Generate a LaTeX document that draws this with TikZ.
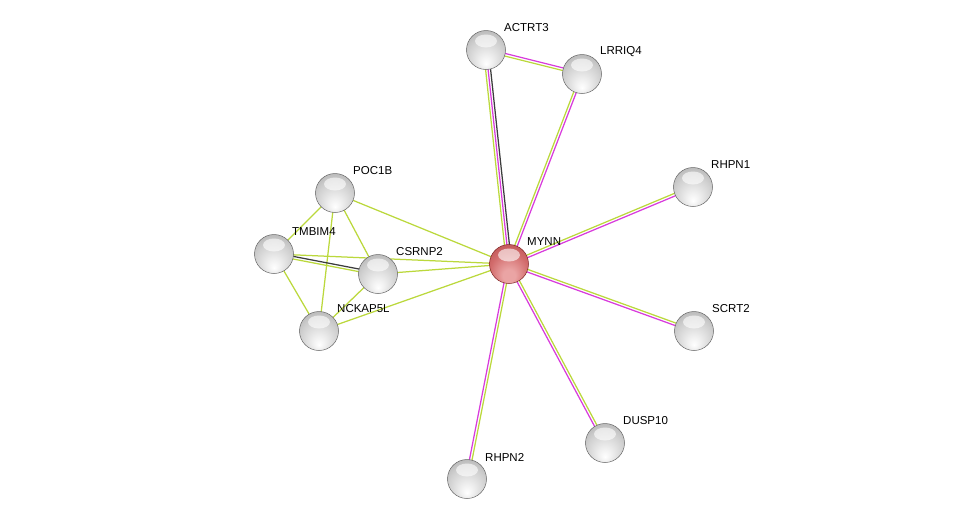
\documentclass[tikz,border=0pt]{standalone}
\usepackage{fontspec}
\setmainfont{Liberation Sans}
\usetikzlibrary{calc}
\pgfdeclarelayer{background}
\pgfsetlayers{background,main}
\definecolor{ym}{HTML}{BBD83C}
\definecolor{mag}{HTML}{D83CDC}
\definecolor{dk}{HTML}{3C3C3C}
\definecolor{gA}{HTML}{F0F0F0}
\definecolor{gB}{HTML}{CFCFCF}
\definecolor{gC}{HTML}{A6A6A6}
\definecolor{gD}{HTML}{6E6E6E}
\definecolor{rA}{HTML}{EAA4A4}
\definecolor{rB}{HTML}{D26C6C}
\definecolor{rC}{HTML}{B44848}
\definecolor{rD}{HTML}{7E2626}
\pgfdeclareradialshading{sph}{\pgfpoint{0bp}{-18bp}}{color(0bp)=(white); color(8bp)=(gA); color(24bp)=(gB); color(40bp)=(gC); color(50bp)=(gD)}
\pgfdeclareradialshading{sphred}{\pgfpoint{0bp}{-18bp}}{color(0bp)=(rA); color(8bp)=(rA); color(24bp)=(rB); color(40bp)=(rC); color(50bp)=(rD)}
\begin{document}
\begin{tikzpicture}[x=1pt,y=-1pt,
  hilite/.style={path picture={\fill[white,opacity=0.6] ($(path picture bounding box.center)+(0,-9)$) ellipse (11 and 6.5);}},
  prot/.style={circle,minimum size=39pt,inner sep=0pt,shading=sph,draw=gray!80!black,line width=0.5pt,hilite},
  hub/.style={prot,shading=sphred,draw=rD},
  lbl/.style={anchor=west,font=\fontsize{11.5}{13}\selectfont,inner sep=0pt},
  ln/.style={line width=1.25pt}]
\useasboundingbox (0,0) rectangle (975,525);
% nodes
\node[prot] (ACTRT3) at (486,50) {};
\node[prot] (LRRIQ4) at (582,74) {};
\node[prot] (RHPN1) at (693,187) {};
\node[hub] (MYNN) at (509,264) {};
\node[prot] (SCRT2) at (694,331) {};
\node[prot] (DUSP10) at (605,443) {};
\node[prot] (RHPN2) at (467,479) {};
\node[prot] (POC1B) at (335,193) {};
\node[prot] (TMBIM4) at (274,254) {};
\node[prot] (CSRNP2) at (378,274) {};
\node[prot] (NCKAP5L) at (319,331) {};
% labels
\node[lbl] (lACTRT3) at ($(ACTRT3.center)+(18,-22)$) {ACTRT3};
\node[lbl] (lLRRIQ4) at ($(LRRIQ4.center)+(18,-22)$) {LRRIQ4};
\node[lbl] (lRHPN1) at ($(RHPN1.center)+(18,-22)$) {RHPN1};
\node[lbl] (lMYNN) at ($(MYNN.center)+(18,-22)$) {MYNN};
\node[lbl] (lSCRT2) at ($(SCRT2.center)+(18,-22)$) {SCRT2};
\node[lbl] (lDUSP10) at ($(DUSP10.center)+(18,-22)$) {DUSP10};
\node[lbl] (lRHPN2) at ($(RHPN2.center)+(18,-22)$) {RHPN2};
\node[lbl] (lPOC1B) at ($(POC1B.center)+(18,-22)$) {POC1B};
\node[lbl] (lTMBIM4) at ($(TMBIM4.center)+(18,-22)$) {TMBIM4};
\node[lbl] (lCSRNP2) at ($(CSRNP2.center)+(18,-22)$) {CSRNP2};
\node[lbl] (lNCKAP5L) at ($(NCKAP5L.center)+(18,-22)$) {NCKAP5L};
% edges
\begin{pgfonlayer}{background}
\foreach \a/\b in {ACTRT3/LRRIQ4, LRRIQ4/MYNN, RHPN1/MYNN, SCRT2/MYNN, DUSP10/MYNN, RHPN2/MYNN}{
  \draw[ln,mag] ($(\a.center)!1.3pt!90:(\b.center)$) -- ($(\b.center)!1.3pt!-90:(\a.center)$);
  \draw[ln,ym] ($(\a.center)!1.3pt!-90:(\b.center)$) -- ($(\b.center)!1.3pt!90:(\a.center)$);
}
\draw[ln,ym] ($(ACTRT3.center)!2.5pt!-90:(MYNN.center)$) -- ($(MYNN.center)!2.5pt!90:(ACTRT3.center)$);
\draw[ln,mag] (ACTRT3.center) -- (MYNN.center);
\draw[ln,dk] ($(ACTRT3.center)!2.5pt!90:(MYNN.center)$) -- ($(MYNN.center)!2.5pt!-90:(ACTRT3.center)$);
\foreach \a/\b in {POC1B/MYNN, TMBIM4/MYNN, CSRNP2/MYNN, NCKAP5L/MYNN, POC1B/TMBIM4, POC1B/CSRNP2, POC1B/NCKAP5L, TMBIM4/NCKAP5L, CSRNP2/NCKAP5L}{
  \draw[ln,ym] (\a.center) -- (\b.center);
}
\draw[ln,ym] ($(TMBIM4.center)!1.3pt!-90:(CSRNP2.center)$) -- ($(CSRNP2.center)!1.3pt!90:(TMBIM4.center)$);
\draw[ln,dk] ($(TMBIM4.center)!1.3pt!90:(CSRNP2.center)$) -- ($(CSRNP2.center)!1.3pt!-90:(TMBIM4.center)$);
\end{pgfonlayer}
\end{tikzpicture}
\end{document}
